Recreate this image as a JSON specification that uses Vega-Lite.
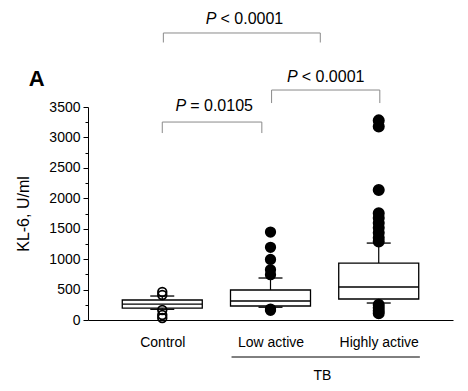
{
  "$schema": "https://vega.github.io/schema/vega-lite/v6.json",
  "width": 365,
  "height": 213,
  "autosize": {"type": "none"},
  "padding": {"left": 88, "top": 107, "right": 15, "bottom": 71},
  "background": "white",
  "config": {
    "view": {"stroke": null},
    "font": "Liberation Sans",
    "axis": {"domainColor": "black", "tickColor": "black", "labelColor": "black", "titleColor": "black", "labelFont": "Liberation Sans", "titleFont": "Liberation Sans", "grid": false},
    "axisX": {"ticks": false, "labelPadding": 15, "labelFontSize": 14, "labelOverlap": false, "labelFlush": false},
    "axisY": {"tickSize": 5, "labelPadding": 3, "labelFontSize": 14, "labelOverlap": false, "titleFontSize": 16, "titleFontWeight": "normal", "titlePadding": 17}
  },
  "datasets": {
    "boxes": [
      {"group": "Control", "pos": 1, "lower": 176, "q1": 195, "median": 260, "q3": 329, "upper": 394},
      {"group": "Low active", "pos": 2, "lower": 210, "q1": 230, "median": 312, "q3": 493, "upper": 690},
      {"group": "Highly active", "pos": 3, "lower": 279, "q1": 345, "median": 542, "q3": 936, "upper": 1264}
    ],
    "outliers": [
      {"group": "Control", "pos": 1, "value": 460},
      {"group": "Control", "pos": 1, "value": 410},
      {"group": "Control", "pos": 1, "value": 164},
      {"group": "Control", "pos": 1, "value": 82},
      {"group": "Control", "pos": 1, "value": 33},
      {"group": "Low active", "pos": 2, "value": 1445},
      {"group": "Low active", "pos": 2, "value": 1195},
      {"group": "Low active", "pos": 2, "value": 995},
      {"group": "Low active", "pos": 2, "value": 825},
      {"group": "Low active", "pos": 2, "value": 745},
      {"group": "Low active", "pos": 2, "value": 180},
      {"group": "Low active", "pos": 2, "value": 160},
      {"group": "Highly active", "pos": 3, "value": 3280},
      {"group": "Highly active", "pos": 3, "value": 3180},
      {"group": "Highly active", "pos": 3, "value": 2135},
      {"group": "Highly active", "pos": 3, "value": 1755},
      {"group": "Highly active", "pos": 3, "value": 1675},
      {"group": "Highly active", "pos": 3, "value": 1595},
      {"group": "Highly active", "pos": 3, "value": 1515},
      {"group": "Highly active", "pos": 3, "value": 1435},
      {"group": "Highly active", "pos": 3, "value": 1350},
      {"group": "Highly active", "pos": 3, "value": 1290},
      {"group": "Highly active", "pos": 3, "value": 250},
      {"group": "Highly active", "pos": 3, "value": 200},
      {"group": "Highly active", "pos": 3, "value": 150},
      {"group": "Highly active", "pos": 3, "value": 110}
    ],
    "brackets": [
      {"x1": 1.0, "x2": 1.92, "top": 3253, "bottom": 3072, "tx": 1.48, "ty": 3434, "rest": "= 0.0105"},
      {"x1": 2.01, "x2": 3.01, "top": 3779, "bottom": 3565, "tx": 2.51, "ty": 3911, "rest": "< 0.0001"},
      {"x1": 1.01, "x2": 2.46, "top": 4716, "bottom": 4560, "tx": 1.76, "ty": 4864, "rest": "< 0.0001"}
    ],
    "groupline": [
      {"x1": 1.64, "x2": 3.38, "y": -608, "label": "TB", "lx": 2.48, "ly": -986}
    ],
    "panel": [
      {"x": -0.16, "y": 3845, "label": "A"}
    ]
  },
  "encoding": {
    "x": {
      "field": "pos", "type": "quantitative",
      "scale": {"domain": [0.36, 3.64], "nice": false, "zero": false},
      "axis": {
        "values": [1, 2, 3],
        "labelExpr": "datum.value == 1 ? 'Control' : datum.value == 2 ? 'Low active' : 'Highly active'",
        "title": null
      }
    },
    "y": {
      "field": "upper", "type": "quantitative",
      "scale": {"domain": [0, 3500], "nice": false, "zero": true},
      "axis": {
        "values": [0, 250, 500, 750, 1000, 1250, 1500, 1750, 2000, 2250, 2500, 2750, 3000, 3250, 3500],
        "format": "d",
        "labelExpr": "datum.value % 500 === 0 ? datum.label : ''",
        "tickSize": {"condition": {"test": "datum.value % 500 === 0", "value": 5}, "value": 3},
        "title": "KL-6, U/ml"
      }
    }
  },
  "layer": [
    {
      "data": {"name": "boxes"},
      "mark": {"type": "rule", "stroke": "black", "strokeWidth": 1.2},
      "encoding": {
        "y2": {"field": "q3"}
      }
    },
    {
      "data": {"name": "boxes"},
      "mark": {"type": "rule", "stroke": "black", "strokeWidth": 1.2},
      "encoding": {
        "y": {"field": "lower", "type": "quantitative", "axis": {"values": [0, 250, 500, 750, 1000, 1250, 1500, 1750, 2000, 2250, 2500, 2750, 3000, 3250, 3500], "format": "d", "labelExpr": "datum.value % 500 === 0 ? datum.label : ''", "tickSize": {"condition": {"test": "datum.value % 500 === 0", "value": 5}, "value": 3}, "title": "KL-6, U/ml"}},
        "y2": {"field": "q1"}
      }
    },
    {
      "data": {"name": "boxes"},
      "mark": {"type": "bar", "width": 80, "fill": "white", "stroke": "black", "strokeWidth": 1.3},
      "encoding": {
        "y": {"field": "q1", "type": "quantitative", "axis": {"values": [0, 250, 500, 750, 1000, 1250, 1500, 1750, 2000, 2250, 2500, 2750, 3000, 3250, 3500], "format": "d", "labelExpr": "datum.value % 500 === 0 ? datum.label : ''", "tickSize": {"condition": {"test": "datum.value % 500 === 0", "value": 5}, "value": 3}, "title": "KL-6, U/ml"}},
        "y2": {"field": "q3"}
      }
    },
    {
      "data": {"name": "boxes"},
      "mark": {"type": "tick", "orient": "horizontal", "size": 80, "thickness": 1.3, "color": "black", "opacity": 1},
      "encoding": {
        "y": {"field": "median", "type": "quantitative", "axis": {"values": [0, 250, 500, 750, 1000, 1250, 1500, 1750, 2000, 2250, 2500, 2750, 3000, 3250, 3500], "format": "d", "labelExpr": "datum.value % 500 === 0 ? datum.label : ''", "tickSize": {"condition": {"test": "datum.value % 500 === 0", "value": 5}, "value": 3}, "title": "KL-6, U/ml"}}
      }
    },
    {
      "data": {"name": "boxes"},
      "mark": {"type": "tick", "orient": "horizontal", "size": 24, "thickness": 1.3, "color": "black", "opacity": 1},
      "encoding": {}
    },
    {
      "data": {"name": "boxes"},
      "mark": {"type": "tick", "orient": "horizontal", "size": 24, "thickness": 1.3, "color": "black", "opacity": 1},
      "encoding": {
        "y": {"field": "lower", "type": "quantitative", "axis": {"values": [0, 250, 500, 750, 1000, 1250, 1500, 1750, 2000, 2250, 2500, 2750, 3000, 3250, 3500], "format": "d", "labelExpr": "datum.value % 500 === 0 ? datum.label : ''", "tickSize": {"condition": {"test": "datum.value % 500 === 0", "value": 5}, "value": 3}, "title": "KL-6, U/ml"}}
      }
    },
    {
      "data": {"name": "outliers"},
      "mark": {"type": "point", "shape": "circle", "filled": true, "stroke": "black", "strokeWidth": 1.8, "opacity": 1},
      "encoding": {
        "y": {"field": "value", "type": "quantitative", "axis": {"values": [0, 250, 500, 750, 1000, 1250, 1500, 1750, 2000, 2250, 2500, 2750, 3000, 3250, 3500], "format": "d", "labelExpr": "datum.value % 500 === 0 ? datum.label : ''", "tickSize": {"condition": {"test": "datum.value % 500 === 0", "value": 5}, "value": 3}, "title": "KL-6, U/ml"}},
        "fill": {"field": "group", "type": "nominal", "scale": {"domain": ["Control", "Low active", "Highly active"], "range": ["transparent", "black", "black"]}, "legend": null},
        "size": {"field": "group", "type": "nominal", "scale": {"domain": ["Control", "Low active", "Highly active"], "range": [75, 105, 105]}, "legend": null}
      }
    },
    {
      "data": {"name": "brackets"},
      "mark": {"type": "rule", "stroke": "#8a8a8a", "strokeWidth": 1},
      "encoding": {
        "x": {"field": "x1", "type": "quantitative", "axis": {"values": [1, 2, 3], "labelExpr": "datum.value == 1 ? 'Control' : datum.value == 2 ? 'Low active' : 'Highly active'", "title": null}},
        "x2": {"field": "x2"},
        "y": {"field": "top", "type": "quantitative", "axis": {"values": [0, 250, 500, 750, 1000, 1250, 1500, 1750, 2000, 2250, 2500, 2750, 3000, 3250, 3500], "format": "d", "labelExpr": "datum.value % 500 === 0 ? datum.label : ''", "tickSize": {"condition": {"test": "datum.value % 500 === 0", "value": 5}, "value": 3}, "title": "KL-6, U/ml"}}
      }
    },
    {
      "data": {"name": "brackets"},
      "mark": {"type": "rule", "stroke": "#8a8a8a", "strokeWidth": 1},
      "encoding": {
        "x": {"field": "x1", "type": "quantitative", "axis": {"values": [1, 2, 3], "labelExpr": "datum.value == 1 ? 'Control' : datum.value == 2 ? 'Low active' : 'Highly active'", "title": null}},
        "y": {"field": "bottom", "type": "quantitative", "axis": {"values": [0, 250, 500, 750, 1000, 1250, 1500, 1750, 2000, 2250, 2500, 2750, 3000, 3250, 3500], "format": "d", "labelExpr": "datum.value % 500 === 0 ? datum.label : ''", "tickSize": {"condition": {"test": "datum.value % 500 === 0", "value": 5}, "value": 3}, "title": "KL-6, U/ml"}},
        "y2": {"field": "top"}
      }
    },
    {
      "data": {"name": "brackets"},
      "mark": {"type": "rule", "stroke": "#8a8a8a", "strokeWidth": 1},
      "encoding": {
        "x": {"field": "x2", "type": "quantitative", "axis": {"values": [1, 2, 3], "labelExpr": "datum.value == 1 ? 'Control' : datum.value == 2 ? 'Low active' : 'Highly active'", "title": null}},
        "y": {"field": "bottom", "type": "quantitative", "axis": {"values": [0, 250, 500, 750, 1000, 1250, 1500, 1750, 2000, 2250, 2500, 2750, 3000, 3250, 3500], "format": "d", "labelExpr": "datum.value % 500 === 0 ? datum.label : ''", "tickSize": {"condition": {"test": "datum.value % 500 === 0", "value": 5}, "value": 3}, "title": "KL-6, U/ml"}},
        "y2": {"field": "top"}
      }
    },
    {
      "data": {"name": "brackets"},
      "mark": {"type": "text", "text": "P", "fontStyle": "italic", "fontSize": 16, "align": "right", "baseline": "alphabetic", "dx": -28, "color": "black", "font": "Liberation Sans"},
      "encoding": {
        "x": {"field": "tx", "type": "quantitative", "axis": {"values": [1, 2, 3], "labelExpr": "datum.value == 1 ? 'Control' : datum.value == 2 ? 'Low active' : 'Highly active'", "title": null}},
        "y": {"field": "ty", "type": "quantitative", "axis": {"values": [0, 250, 500, 750, 1000, 1250, 1500, 1750, 2000, 2250, 2500, 2750, 3000, 3250, 3500], "format": "d", "labelExpr": "datum.value % 500 === 0 ? datum.label : ''", "tickSize": {"condition": {"test": "datum.value % 500 === 0", "value": 5}, "value": 3}, "title": "KL-6, U/ml"}}
      }
    },
    {
      "data": {"name": "brackets"},
      "mark": {"type": "text", "fontSize": 16, "align": "left", "baseline": "alphabetic", "dx": -24, "color": "black", "font": "Liberation Sans"},
      "encoding": {
        "x": {"field": "tx", "type": "quantitative", "axis": {"values": [1, 2, 3], "labelExpr": "datum.value == 1 ? 'Control' : datum.value == 2 ? 'Low active' : 'Highly active'", "title": null}},
        "y": {"field": "ty", "type": "quantitative", "axis": {"values": [0, 250, 500, 750, 1000, 1250, 1500, 1750, 2000, 2250, 2500, 2750, 3000, 3250, 3500], "format": "d", "labelExpr": "datum.value % 500 === 0 ? datum.label : ''", "tickSize": {"condition": {"test": "datum.value % 500 === 0", "value": 5}, "value": 3}, "title": "KL-6, U/ml"}},
        "text": {"field": "rest"}
      }
    },
    {
      "data": {"name": "groupline"},
      "mark": {"type": "rule", "stroke": "black", "strokeWidth": 1},
      "encoding": {
        "x": {"field": "x1", "type": "quantitative", "axis": {"values": [1, 2, 3], "labelExpr": "datum.value == 1 ? 'Control' : datum.value == 2 ? 'Low active' : 'Highly active'", "title": null}},
        "x2": {"field": "x2"},
        "y": {"field": "y", "type": "quantitative", "axis": {"values": [0, 250, 500, 750, 1000, 1250, 1500, 1750, 2000, 2250, 2500, 2750, 3000, 3250, 3500], "format": "d", "labelExpr": "datum.value % 500 === 0 ? datum.label : ''", "tickSize": {"condition": {"test": "datum.value % 500 === 0", "value": 5}, "value": 3}, "title": "KL-6, U/ml"}}
      }
    },
    {
      "data": {"name": "groupline"},
      "mark": {"type": "text", "fontSize": 14, "align": "center", "baseline": "alphabetic", "color": "black", "font": "Liberation Sans"},
      "encoding": {
        "x": {"field": "lx", "type": "quantitative", "axis": {"values": [1, 2, 3], "labelExpr": "datum.value == 1 ? 'Control' : datum.value == 2 ? 'Low active' : 'Highly active'", "title": null}},
        "y": {"field": "ly", "type": "quantitative", "axis": {"values": [0, 250, 500, 750, 1000, 1250, 1500, 1750, 2000, 2250, 2500, 2750, 3000, 3250, 3500], "format": "d", "labelExpr": "datum.value % 500 === 0 ? datum.label : ''", "tickSize": {"condition": {"test": "datum.value % 500 === 0", "value": 5}, "value": 3}, "title": "KL-6, U/ml"}},
        "text": {"field": "label"}
      }
    },
    {
      "data": {"name": "panel"},
      "mark": {"type": "text", "fontSize": 22, "fontWeight": "bold", "align": "center", "baseline": "alphabetic", "color": "black", "font": "Liberation Sans"},
      "encoding": {
        "x": {"field": "x", "type": "quantitative", "axis": {"values": [1, 2, 3], "labelExpr": "datum.value == 1 ? 'Control' : datum.value == 2 ? 'Low active' : 'Highly active'", "title": null}},
        "y": {"field": "y", "type": "quantitative", "axis": {"values": [0, 250, 500, 750, 1000, 1250, 1500, 1750, 2000, 2250, 2500, 2750, 3000, 3250, 3500], "format": "d", "labelExpr": "datum.value % 500 === 0 ? datum.label : ''", "tickSize": {"condition": {"test": "datum.value % 500 === 0", "value": 5}, "value": 3}, "title": "KL-6, U/ml"}},
        "text": {"field": "label"}
      }
    }
  ]
}
